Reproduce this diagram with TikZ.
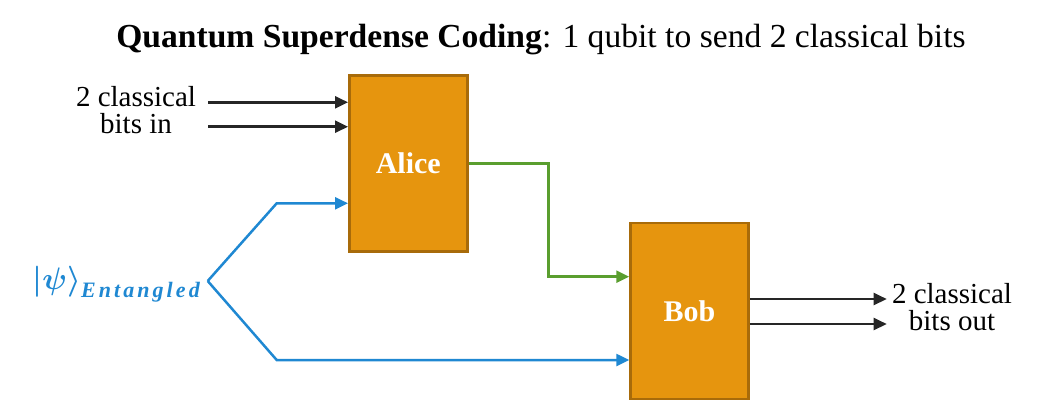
\documentclass[tikz,border=0pt]{standalone}
\usepackage{fontspec}
\usepackage{graphicx}
\setmainfont{Liberation Serif}
\usetikzlibrary{arrows.meta}
\definecolor{boxfill}{HTML}{E6950E}
\definecolor{boxline}{HTML}{A86B0A}
\definecolor{qblue}{HTML}{1F88D2}
\definecolor{cgreen}{HTML}{5A9E2F}
\definecolor{cblack}{HTML}{262626}
\tikzset{
  party/.style={draw=boxline, fill=boxfill, line width=2.5pt, minimum width=118pt, minimum height=176pt, inner sep=0pt,
    text=white, font=\fontsize{30}{30}\selectfont\bfseries},
  lbl/.style={font=\fontsize{29}{27}\selectfont, align=center, inner sep=0pt},
  conn/.style={line width=2.5pt, -{Triangle[length=13pt,width=12pt]}},
  bitline/.style={conn, draw=cblack},
  qline/.style={conn, draw=qblue},
  cline/.style={conn, draw=cgreen},
}
\begin{document}
\begin{tikzpicture}[x=1pt,y=-1pt]
\useasboundingbox (0,0) rectangle (1045,402);
% title
\node[anchor=base, inner sep=0pt, font=\fontsize{33.6}{34}\selectfont] (title) at (541,47)
  {\textbf{Quantum Superdense Coding}: 1 qubit to send 2 classical bits};
% boxes
\node[party] (alice) at (408.3,163.3) {Alice};
\node[party] (bob) at (689.5,310.8) {Bob};
% input labels
\node[lbl, anchor=base] (inlbl) at (136,133.3) {2 classical\\bits in};
\node[lbl, anchor=base] (outlbl) at (952,330.7) {2 classical\\bits out};
% psi label
\node[anchor=base east, inner sep=0pt, text=qblue] (psi) at (200,289)
  {\scalebox{1.25}{\fontsize{24.88}{25}\selectfont\boldmath$|\psi\rangle$}{\fontsize{22}{22}\selectfont\raisebox{-8pt}{\bfseries\itshape\addfontfeature{LetterSpace=14}Entangled}}};
% free ends
\coordinate (in1) at (208.3,102.3);
\coordinate (in2) at (208.3,126.7);
\coordinate (out1) at (886.7,299);
\coordinate (out2) at (886.7,324);
\coordinate (apex) at (207.7,281);
\coordinate (up) at (276.7,203.3);
\coordinate (low) at (276.7,360);
\coordinate (gx) at (548.3,163.3);
\coordinate (gy) at (548.3,276.7);
% connectors
\draw[bitline] (in1) -- (alice.west |- in1);
\draw[bitline] (in2) -- (alice.west |- in2);
\draw[bitline] (bob.east |- out1) -- (out1);
\draw[bitline] (bob.east |- out2) -- (out2);
\draw[qline, line join=miter] (apex) -- (up) -- (alice.west |- up);
\draw[qline, line join=miter] (apex) -- (low) -- (bob.west |- low);
\draw[cline, line join=miter] (alice.east) -- (gx) -- (gy) -- (bob.west |- gy);
\end{tikzpicture}
\end{document}
